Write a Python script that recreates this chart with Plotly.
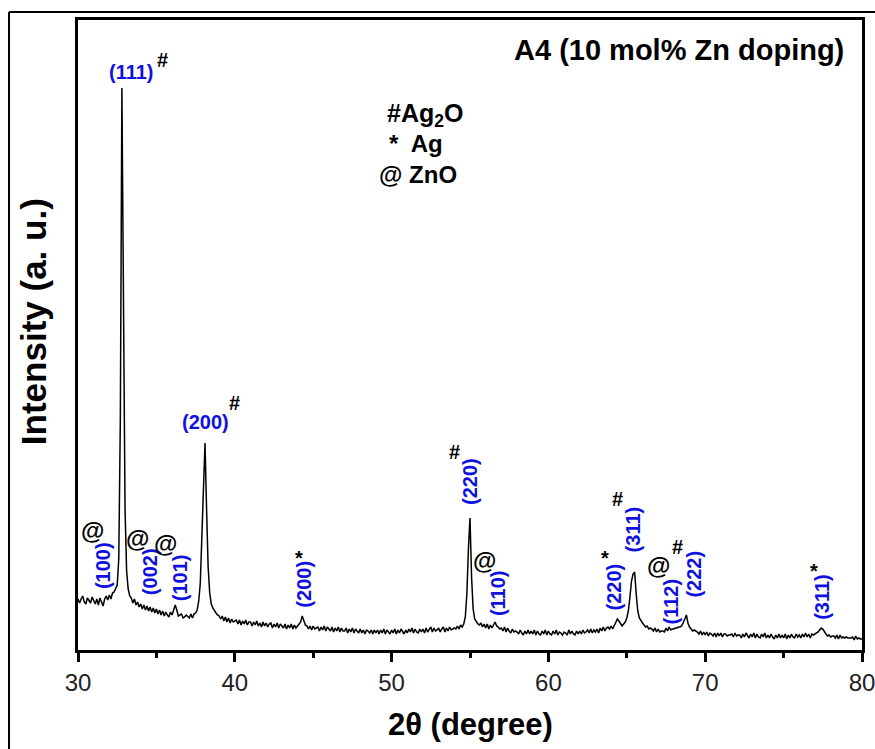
import plotly.graph_objects as go

# XRD pattern of sample A4 (10 mol% Zn doping), sampled every 0.1 degree from 30.0 to 80.0
TWO_THETA_START = 30.0
TWO_THETA_STEP = 0.1
intensity = [
    50, 46, 50, 53, 47, 45, 51, 49, 46, 52,        # 30
    48, 45, 50, 44, 51, 47, 43, 50, 53, 49,        # 31
    54, 50, 56, 57, 61, 64, 90, 230, 561, 330,     # 32
    140, 78, 60, 53, 51, 46, 50, 44, 47, 42,       # 33
    45, 40, 44, 39, 43, 38, 42, 37, 41, 36,        # 34
    40, 35, 39, 34, 38, 33, 37, 34, 32, 37,        # 35
    34, 39, 44, 39, 33, 34, 35, 31, 32, 34,        # 36
    32, 31, 35, 31, 35, 36, 39, 48, 66, 110,       # 37
    175, 206, 140, 82, 56, 45, 41, 38, 36, 34,     # 38
    33, 30, 33, 28, 32, 27, 31, 26, 30, 27,        # 39
    28, 29, 25, 29, 24, 28, 25, 29, 24, 27,        # 40
    27, 23, 27, 24, 28, 23, 26, 22, 27, 23,        # 41
    26, 22, 25, 26, 21, 25, 22, 26, 21, 25,        # 42
    23, 21, 25, 20, 24, 21, 25, 20, 24, 21,        # 43
    23, 25, 27, 33, 28, 24, 23, 20, 23, 19,        # 44
    23, 20, 21, 22, 18, 22, 19, 23, 18, 22,        # 45
    20, 18, 22, 17, 21, 18, 22, 17, 21, 18,        # 46
    18, 21, 16, 20, 17, 21, 16, 20, 18, 16,        # 47
    20, 16, 19, 15, 19, 18, 16, 19, 15, 19,        # 48
    16, 19, 15, 19, 16, 20, 15, 19, 17, 15,        # 49
    19, 16, 20, 15, 19, 16, 20, 18, 15, 19,        # 50
    16, 20, 17, 21, 16, 20, 17, 16, 20, 17,        # 51
    20, 16, 21, 17, 20, 22, 17, 21, 18, 19,        # 52
    21, 17, 20, 22, 17, 21, 18, 22, 19, 20,        # 53
    21, 20, 23, 20, 24, 22, 25, 32, 55, 100,       # 54
    131, 72, 40, 30, 27, 25, 24, 26, 22, 25,       # 55
    21, 25, 20, 24, 21, 25, 27, 23, 22, 20,        # 56
    21, 18, 22, 17, 21, 18, 16, 20, 17, 18,        # 57
    17, 15, 19, 16, 14, 18, 15, 19, 15, 18,        # 58
    15, 19, 14, 18, 15, 14, 18, 15, 19, 14,        # 59
    18, 15, 14, 18, 15, 19, 14, 17, 16, 14,        # 60
    17, 16, 14, 19, 15, 18, 15, 14, 18, 15,        # 61
    18, 15, 19, 16, 17, 19, 16, 20, 16, 19,        # 62
    17, 20, 16, 21, 18, 22, 18, 21, 22, 20,        # 63
    23, 20, 24, 26, 30, 28, 25, 23, 25, 27,        # 64
    31, 38, 52, 68, 75, 77, 55, 38, 31, 28,        # 65
    26, 24, 22, 23, 20, 21, 20, 18, 21, 17,        # 66
    20, 17, 18, 18, 17, 21, 18, 22, 19, 20,        # 67
    20, 21, 21, 22, 22, 23, 26, 30, 34, 26,        # 68
    22, 20, 18, 19, 18, 17, 15, 18, 14, 17,        # 69
    14, 17, 13, 16, 15, 13, 16, 12, 16, 13,        # 70
    16, 12, 15, 15, 13, 14, 14, 15, 12, 16,        # 71
    13, 14, 14, 11, 15, 12, 16, 13, 11, 15,        # 72
    12, 16, 11, 15, 12, 11, 15, 12, 16, 11,        # 73
    14, 11, 15, 12, 10, 14, 11, 15, 11, 14,        # 74
    11, 15, 10, 14, 11, 15, 12, 11, 15, 12,        # 75
    14, 11, 15, 12, 16, 12, 15, 11, 15, 14,        # 76
    15, 16, 17, 19, 21, 20, 17, 15, 13, 14,        # 77
    12, 13, 13, 11, 14, 10, 14, 11, 12, 11,        # 78
    12, 11, 11, 11, 12, 9, 13, 10, 11, 10,         # 79
    10,                                            # 80
]
two_theta = [round(TWO_THETA_START + TWO_THETA_STEP * i, 2) for i in range(len(intensity))]

x_tick_values = [30, 40, 50, 60, 70, 80]
x_tick_labels = ["30", "40", "50", "60", "70", "80"]

# Miller-index labels: (text, 2theta, intensity-level, angle)
hkl_labels = [
    ("(100)", 31.60, 83, -90),
    ("(002)", 34.60, 77, -90),
    ("(101)", 36.52, 71, -90),
    ("(200)", 44.39, 65, -90),
    ("(220)", 55.00, 167, -90),
    ("(110)", 56.79, 56, -90),
    ("(220)", 64.21, 62, -90),
    ("(311)", 65.42, 120, -90),
    ("(112)", 67.85, 48, -90),
    ("(222)", 69.26, 75, -90),
    ("(311)", 77.44, 52, -90),
    ("(111)", 33.40, 577, 0),
    ("(200)", 38.12, 227, 0),
]
# phase markers: (symbol, 2theta, intensity-level)
phase_marks = [
    ("@", 30.90, 119), ("@", 33.77, 111), ("@", 35.56, 106),
    ("*", 44.07, 91), ("#", 54.04, 197), ("@", 55.90, 89),
    ("*", 63.63, 91), ("#", 64.40, 150), ("@", 67.02, 84),
    ("#", 68.24, 102), ("*", 76.93, 78),
    ("#", 35.37, 589), ("#", 39.97, 246),
]

FONT = "Liberation Sans, Arial, sans-serif"

fig = go.Figure()
fig.add_trace(go.Scatter(x=two_theta, y=intensity, mode="lines",
                         line=dict(color="black", width=1.5), showlegend=False,
                         hoverinfo="skip"))

annotations = []
for text, xv, yv, ang in hkl_labels:
    annotations.append(dict(x=xv, y=yv, xref="x", yref="y", text=f"<b>{text}</b>",
                            showarrow=False, textangle=ang,
                            xanchor="center", yanchor="middle",
                            font=dict(family=FONT, size=20, color="#1010e0")))
for sym, xv, yv in phase_marks:
    size = 24 if sym == "@" else 20
    annotations.append(dict(x=xv, y=yv, xref="x", yref="y", text=f"<b>{sym}</b>",
                            showarrow=False, xanchor="center", yanchor="middle",
                            font=dict(family=FONT, size=size, color="black")))

annotations.append(dict(x=79.0, y=599, xref="x", yref="y", xanchor="right", yanchor="middle",
                        text="<b>A4 (10 mol% Zn doping)</b>", showarrow=False,
                        font=dict(family=FONT, size=29, color="black")))
annotations.append(dict(x=49.6, y=534, xref="x", yref="y", xanchor="left", yanchor="middle",
                        text="<b>#Ag<sub>2</sub>O</b>", showarrow=False,
                        font=dict(family=FONT, size=25, color="black")))
annotations.append(dict(x=49.7, y=506, xref="x", yref="y", xanchor="left", yanchor="middle",
                        text="<b>*  Ag</b>", showarrow=False,
                        font=dict(family=FONT, size=24, color="black")))
annotations.append(dict(x=49.1, y=475, xref="x", yref="y", xanchor="left", yanchor="middle",
                        text="<b>@ ZnO</b>", showarrow=False,
                        font=dict(family=FONT, size=24, color="black")))
# axis titles
annotations.append(dict(x=0.501, y=-0.119, xref="paper", yref="paper",
                        xanchor="center", yanchor="middle",
                        text="<b>2θ (degree)</b>", showarrow=False,
                        font=dict(family=FONT, size=31, color="black")))
annotations.append(dict(x=-0.0574, y=0.522, xref="paper", yref="paper",
                        xanchor="center", yanchor="middle",
                        text="<b>Intensity (a. u.)</b>", showarrow=False, textangle=-90,
                        font=dict(family=FONT, size=35, color="black")))

fig.update_layout(
    width=875, height=749,
    margin=dict(l=78, r=13, t=20, b=99, autoexpand=False),
    paper_bgcolor="white", plot_bgcolor="white",
    annotations=annotations,
    font=dict(family=FONT, color="black"),
    xaxis=dict(
        range=[30, 80], tickmode="array", tickvals=x_tick_values, ticktext=x_tick_labels,
        ticks="outside", ticklen=9, tickwidth=2.5, tickcolor="black",
        tickfont=dict(family=FONT, size=24, color="#222"), ticklabeloverflow="allow",
        minor=dict(dtick=5, ticks="outside", ticklen=5, tickwidth=2.5, tickcolor="black"),
        showline=True, linewidth=3, linecolor="black", mirror=True,
        showgrid=False, zeroline=False, automargin=False,
    ),
    yaxis=dict(
        range=[-1, 629], showticklabels=False, ticks="",
        showline=True, linewidth=3, linecolor="black", mirror=True,
        showgrid=False, zeroline=False, automargin=False,
    ),
    shapes=[
        dict(type="line", xref="paper", yref="paper", x0=-0.088, x1=-0.088, y0=1.0127, y1=-0.2,
             line=dict(color="black", width=2)),
        dict(type="line", xref="paper", yref="paper", x0=-0.088, x1=1.05, y0=1.0127, y1=1.0127,
             line=dict(color="black", width=2)),
    ],
)

fig.write_html(
    "out.html",
    config={"displayModeBar": False},
    post_script="document.body.style.margin='0';document.body.style.overflow='hidden';",
)
